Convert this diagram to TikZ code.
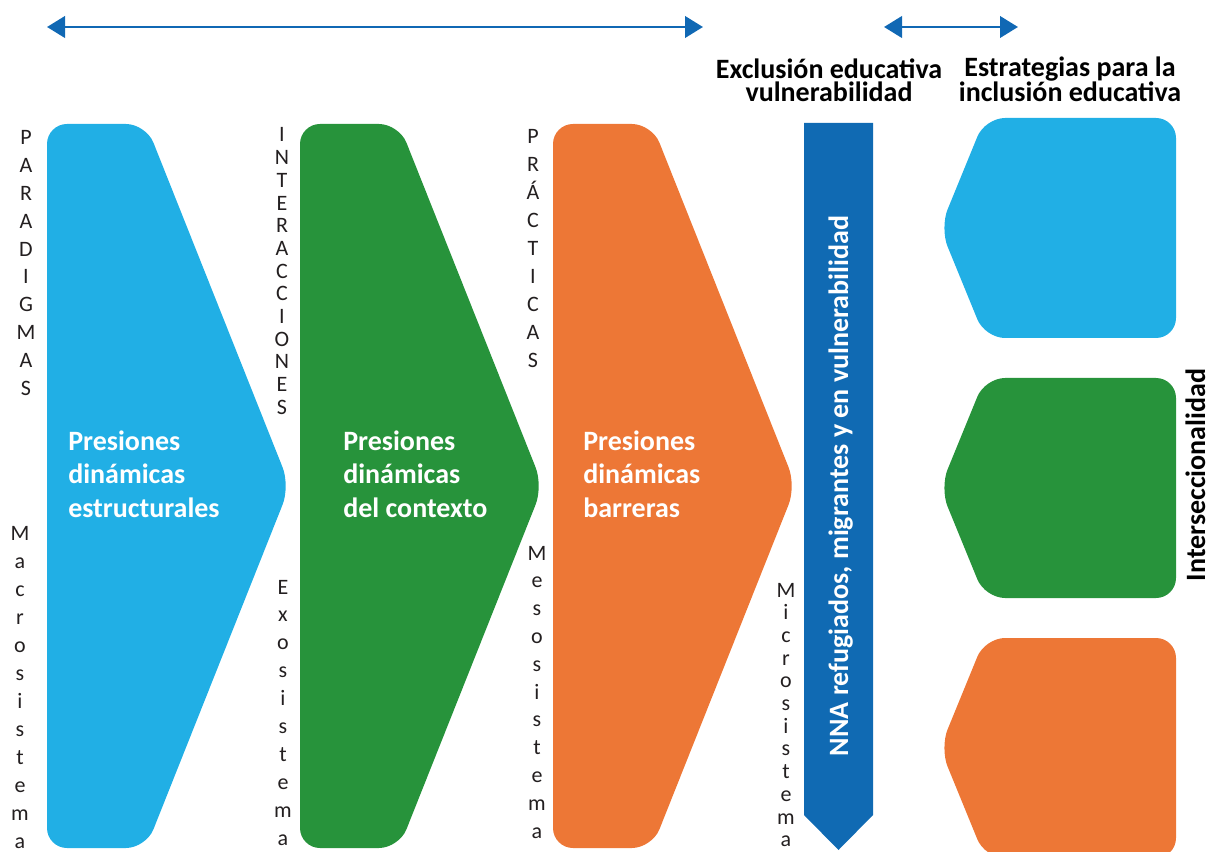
\documentclass[tikz,border=0pt]{standalone}
\usepackage{fontspec}
\setmainfont{Carlito}
\usetikzlibrary{arrows.meta}
\definecolor{cyanA}{RGB}{33,175,229}
\definecolor{greenA}{RGB}{39,147,59}
\definecolor{orangeA}{RGB}{237,119,54}
\definecolor{barblue}{RGB}{16,106,179}
\definecolor{arrowblue}{RGB}{16,104,180}
\definecolor{ink}{RGB}{35,31,32}
\begin{document}
\begin{tikzpicture}[x=0.75pt,y=-0.75pt,
  shapefill/.style={rounded corners=15pt},
  biarrow/.style={arrowblue, line width=2.2pt,
    {Triangle[length=13.5pt,width=16pt]}-{Triangle[length=13.5pt,width=16pt]}},
  vletter/.style={anchor=base, inner sep=0pt, text=ink,
    font=\fontsize{16.5}{18}\selectfont},
  boxtext/.style={anchor=base west, inner sep=0pt, align=left, text=white,
    font=\fontsize{21}{25}\selectfont\bfseries},
  header/.style={anchor=base, inner sep=0pt, align=center, text=black,
    font=\fontsize{21}{17.5}\selectfont\bfseries},
  sidetext/.style={anchor=base, inner sep=0pt, rotate=90,
    font=\fontsize{21}{24}\selectfont\bfseries},
  ]
\useasboundingbox (0,0) rectangle (1211,852);
\clip (0,0) rectangle (1211,852);

% top arrows
\coordinate (la) at (47,27);
\coordinate (lb) at (703,27);
\coordinate (sa) at (884,27);
\coordinate (sb) at (1018,27);
\draw[biarrow] (la) -- (lb);
\draw[biarrow] (sa) -- (sb);

% headers (anchor = baseline of the last line)
\node[header] (hexcl) at (829,102) {Exclusión educativa\\vulnerabilidad};
\node[header] (hestr) at (1070,102) {Estrategias para la\\inclusión educativa};

% chevrons
\fill[cyanA, shapefill] (47,124) -- (146,124) -- (290,486) -- (146,848) -- (47,848) -- cycle;
\fill[greenA, shapefill] (300,124) -- (399,124) -- (543,486) -- (399,848) -- (300,848) -- cycle;
\fill[orangeA, shapefill] (553,124) -- (652,124) -- (796,486) -- (652,848) -- (553,848) -- cycle;

\node[boxtext] (t1) at (68,517) {Presiones\\dinámicas\\estructurales};
\node[boxtext] (t2) at (343,517) {Presiones\\dinámicas\\del contexto};
\node[boxtext] (t3) at (583,517) {Presiones\\dinámicas\\barreras};

% vertical bar
\fill[barblue] (804,123) -- (873,123) -- (873,815) -- (838.5,850) -- (804,815) -- cycle;
\node[sidetext, text=white] (nna) at (848,486) {NNA refugiados, migrantes y en vulnerabilidad};

% right shapes
\fill[cyanA, shapefill] (940,228) -- (985,118) -- (1176,118) -- (1176,338) -- (985,338) -- cycle;
\fill[greenA, shapefill] (940,488) -- (985,378) -- (1176,378) -- (1176,598) -- (985,598) -- cycle;
\fill[orangeA, shapefill] (940,748) -- (985,638) -- (1176,638) -- (1176,858) -- (985,858) -- cycle;

\node[sidetext, text=black] (inter) at (1205,475) {Interseccionalidad};

% vertical letter stacks
\foreach \ch [count=\i] in {P,A,R,A,D,I,G,M,A,S}
  \node[vletter] (par\i) at (26,{145+27.8*(\i-1)}) {\ch};
\foreach \ch [count=\i] in {I,N,T,E,R,A,C,C,I,O,N,E,S}
  \node[vletter] (int\i) at (282,{142+22.67*(\i-1)}) {\ch};
\foreach \ch [count=\i] in {P,R,Á,C,T,I,C,A,S}
  \node[vletter] (pra\i) at (533,{144+27.9*(\i-1)}) {\ch};
\foreach \ch [count=\i] in {M,a,c,r,o,s,i,s,t,e,m,a}
  \node[vletter] (mac\i) at (20,{540+28.0*(\i-1)}) {\ch};
\foreach \ch [count=\i] in {E,x,o,s,i,s,t,e,m,a}
  \node[vletter] (exo\i) at (283,{594+27.9*(\i-1)}) {\ch};
\foreach \ch [count=\i] in {M,e,s,o,s,i,s,t,e,m,a}
  \node[vletter] (mes\i) at (537,{560+27.8*(\i-1)}) {\ch};
\foreach \ch [count=\i] in {M,i,c,r,o,s,i,s,t,e,m,a}
  \node[vletter] (mic\i) at (786,{597+22.7*(\i-1)}) {\ch};
\end{tikzpicture}
\end{document}
